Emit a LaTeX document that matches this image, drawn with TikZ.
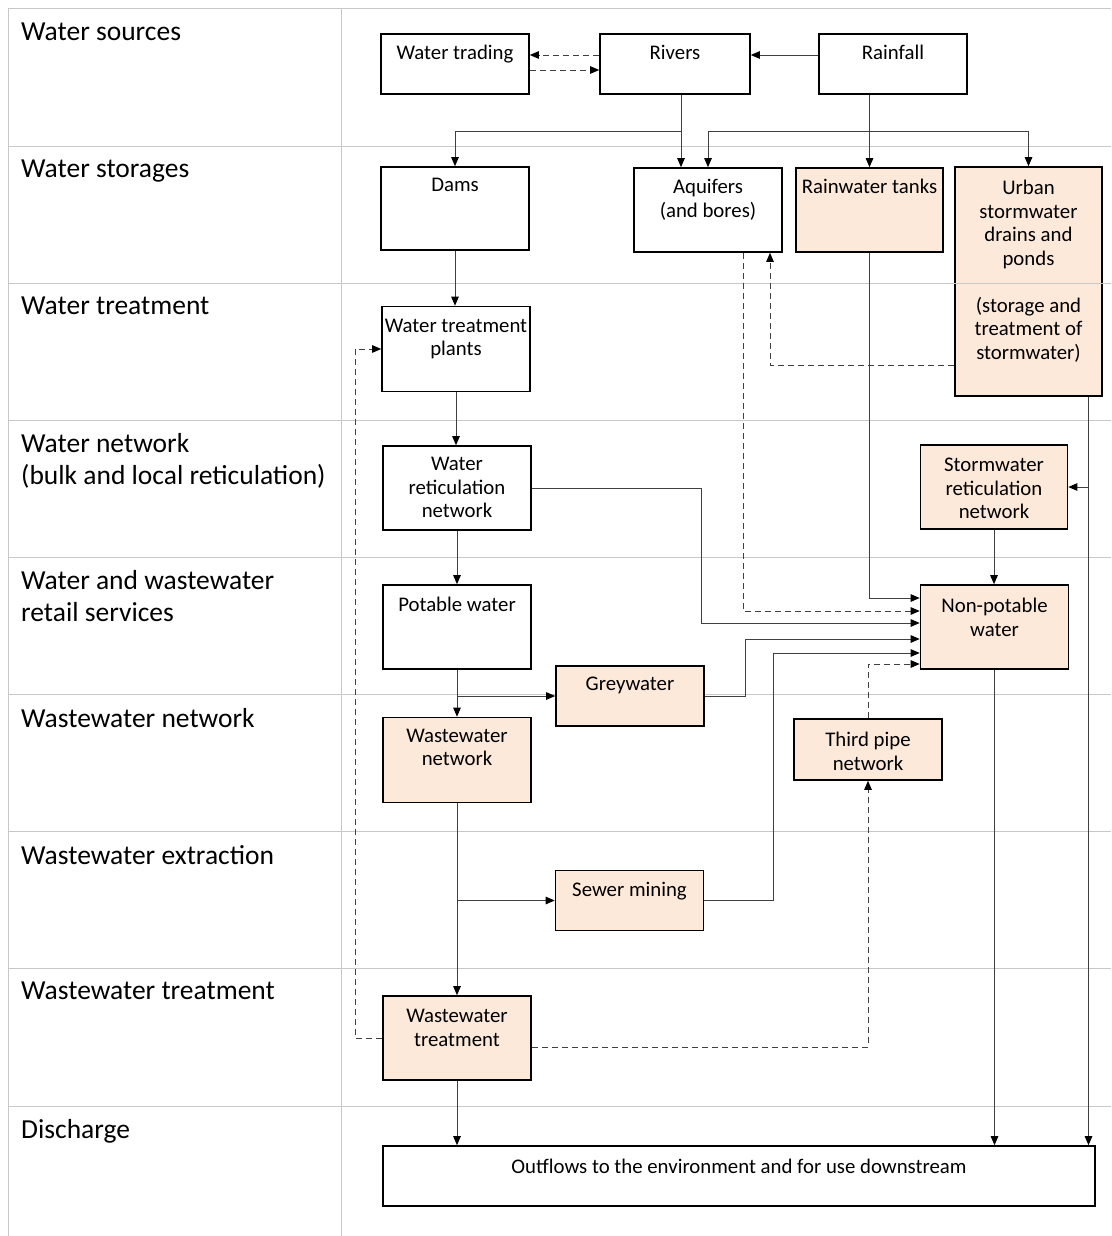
\documentclass[tikz,border=0pt]{standalone}
\usepackage{fontspec}
\setmainfont{Carlito}
\usetikzlibrary{arrows.meta}
\definecolor{peach}{RGB}{253,233,217}
\definecolor{rulegray}{RGB}{200,200,200}
\definecolor{pipe}{RGB}{64,64,64}
\tikzset{
    box/.style={draw=black, line width=1.6pt, fill=white, minimum width=148pt, minimum height=84pt, inner sep=0pt},
    peachbox/.style={box, fill=peach},
    txt/.style={anchor=north, inner sep=0pt, align=center, font=\fontsize{20.8}{23.5}\selectfont},
    rowlabel/.style={anchor=north west, inner sep=0pt, align=left, font=\fontsize{27.5}{32}\selectfont},
    flow/.style={draw=pipe, line width=0.9pt, -{Triangle[length=9pt,width=7.5pt,color=black]}},
    dflow/.style={flow, dash pattern=on 6pt off 4pt},
    tablerule/.style={draw=rulegray, line width=1pt}
}
\begin{document}
\begin{tikzpicture}[x=1pt, y=-1pt]
    \useasboundingbox (0,0) rectangle (1111,1236);
    % Tabelle
    \draw[tablerule]
    (8,1236) -- (8,9) -- (1111,9)
    (341,9) -- (341,1236)
    (8,146) -- (1111,146)
    (8,283) -- (1111,283)
    (8,420) -- (1111,420)
    (8,557) -- (1111,557)
    (8,694) -- (1111,694)
    (8,831) -- (1111,831)
    (8,968) -- (1111,968)
    (8,1106) -- (1111,1106)
    ;
    % Zeilen
    \node[rowlabel] (src) at (21,23) {Water sources};
    \node[rowlabel] (sto) at (21,160) {Water storages};
    \node[rowlabel] (trt) at (21,297) {Water treatment};
    \node[rowlabel] (net) at (21,433) {Water network\\(bulk and local reticulation)};
    \node[rowlabel] (ret) at (21,570) {Water and wastewater\\retail services};
    \node[rowlabel] (wwn) at (21,708) {Wastewater network};
    \node[rowlabel] (wwe) at (21,845) {Wastewater extraction};
    \node[rowlabel] (wwt) at (21,982) {Wastewater treatment};
    \node[rowlabel] (dis) at (21,1119) {Discharge};
    % Quellen
    \node[box, minimum height=60pt] (trading) at (455,64) {};
    \node[box, minimum width=150pt, minimum height=60pt] (rivers) at (675,64) {};
    \node[box, minimum height=60pt] (rainfall) at (893,64) {};
    \node[txt] (trading-t) at ([yshift=-12pt]trading.north) {Water trading};
    \node[txt] (rivers-t) at ([yshift=-12pt]rivers.north) {Rivers};
    \node[txt] (rainfall-t) at ([yshift=-12pt]rainfall.north) {Rainfall};
    % Speicher
    \node[box, minimum height=83pt] (dams) at (455,208.5) {};
    \node[box] (aquifers) at (708,210) {};
    \node[peachbox, minimum width=147pt] (tanks) at (869.5,210) {};
    \node[peachbox, minimum width=147pt, minimum height=229pt] (urban) at (1028.5,281.5) {};
    \node[txt] (dams-t) at ([yshift=-12pt]dams.north) {Dams};
    \node[txt] (aquifers-t) at ([yshift=-12pt]aquifers.north) {Aquifers\\(and bores)};
    \node[txt] (tanks-t) at ([yshift=-12pt]tanks.north) {Rainwater tanks};
    \node[txt] (urban-t) at ([yshift=-14pt]urban.north) {Urban\\stormwater\\drains and\\ponds\\[23.5pt](storage and\\treatment of\\stormwater)};
    \draw[tablerule] (urban.west |- 0,283) -- (urban.east |- 0,283);
    % Aufbereitung und Netze
    \node[box, minimum height=85pt] (wtp) at (456,349) {};
    \node[box] (wret) at (457,488) {};
    \node[peachbox, minimum width=147pt] (sret) at (994,487) {};
    \node[box] (potable) at (457,627) {};
    \node[peachbox] (nonpot) at (994.5,627) {};
    \node[txt] (wtp-t) at ([yshift=-13pt]wtp.north) {Water treatment\\plants};
    \node[txt] (wret-t) at ([yshift=-12pt]wret.north) {Water\\reticulation\\network};
    \node[txt] (sret-t) at ([yshift=-14pt]sret.north) {Stormwater\\reticulation\\network};
    \node[txt] (potable-t) at ([yshift=-13pt]potable.north) {Potable water};
    \node[txt] (nonpot-t) at ([yshift=-14pt]nonpot.north) {Non-potable\\water};
    % Abwasser
    \node[peachbox, minimum height=60pt] (grey) at (630,696) {};
    \node[peachbox, minimum height=85pt] (wwnet) at (457,760) {};
    \node[peachbox, minimum height=61pt] (third) at (868,749.5) {};
    \node[peachbox, minimum height=60pt] (sewer) at (629.5,900.5) {};
    \node[peachbox] (wwtp) at (457,1038) {};
    \node[box, minimum width=712pt, minimum height=60pt] (outflows) at (739,1176) {};
    \node[txt] (grey-t) at ([yshift=-12pt]grey.north) {Greywater};
    \node[txt] (wwnet-t) at ([yshift=-12pt]wwnet.north) {Wastewater\\network};
    \node[txt] (third-t) at ([yshift=-14pt]third.north) {Third pipe\\network};
    \node[txt] (sewer-t) at ([yshift=-12pt]sewer.north) {Sewer mining};
    \node[txt] (wwtp-t) at ([yshift=-14pt]wwtp.north) {Wastewater\\treatment};
    \node[txt] (outflows-t) at ([yshift=-14pt]outflows.north) {Outflows to the environment and for use downstream};
    % Quellen -> Speicher
    \coordinate (split) at (0,131);
    \draw[dflow] ([yshift=9pt]rivers.west) -- ([yshift=9pt]trading.east);
    \draw[dflow] ([yshift=-6pt]trading.east) -- ([yshift=-6pt]rivers.west);
    \draw[flow] ([yshift=9pt]rainfall.west) -- ([yshift=9pt]rivers.east);
    \draw[flow] ([xshift=6pt]rivers.south) -- ([xshift=6pt]rivers.south |- aquifers.north);
    \draw[flow] ([xshift=6pt]rivers.south |- split) -| (dams.north);
    \draw[flow] (rainfall.south -| tanks.north) -- (tanks.north);
    \draw[flow] (tanks.north |- split) -| (aquifers.north);
    \draw[flow] (tanks.north |- split) -| (urban.north);
    % Trinkwasserweg
    \draw[flow] (dams.south) -- (dams.south |- wtp.north);
    \draw[flow] (wtp.south) -- (wtp.south |- wret.north);
    \draw[flow] (wret.south) -- (potable.north);
    \draw[flow] (potable.south) -- (wwnet.north);
    \draw[flow] (potable.south |- grey.west) -- (grey.west);
    \draw[flow] (wwnet.south) -- (wwtp.north);
    \draw[flow] (wwnet.south |- sewer.west) -- (sewer.west);
    \draw[flow] (wwtp.south) -- (wwtp.south |- outflows.north);
    % Zufluesse Brauchwasser
    \draw[flow] (tanks.south) |- ([yshift=29pt]nonpot.west);
    \draw[dflow] ([xshift=35pt]aquifers.south) |- ([yshift=16pt]nonpot.west);
    \draw[flow] (wret.east) -- ++(170,0) |- ([yshift=4pt]nonpot.west);
    \draw[flow] (grey.east) -- ++(41,0) |- ([yshift=-12pt]nonpot.west);
    \draw[flow] (sewer.east) -- ++(69,0) |- ([yshift=-26pt]nonpot.west);
    \draw[dflow] (third.north) |- ([yshift=-37pt]nonpot.west);
    \draw[flow] (sret.south) -- (sret.south |- nonpot.north);
    % Regenwasser
    \draw[dflow] ([yshift=-83.5pt]urban.west) -| ([xshift=62pt]aquifers.south);
    \draw[flow] ([xshift=60pt]urban.south) -- ([xshift=60pt]urban.south |- outflows.north);
    \draw[flow] ([xshift=60pt]urban.south |- sret.east) -- (sret.east);
    \draw[flow] (nonpot.south) -- (nonpot.south |- outflows.north);
    % Rueckfuehrung
    \draw[dflow] (wwtp.west) -- ++(-27,0) |- (wtp.west);
    \draw[dflow] ([yshift=-9pt]wwtp.east) -| (third.south);
\end{tikzpicture}
\end{document}
